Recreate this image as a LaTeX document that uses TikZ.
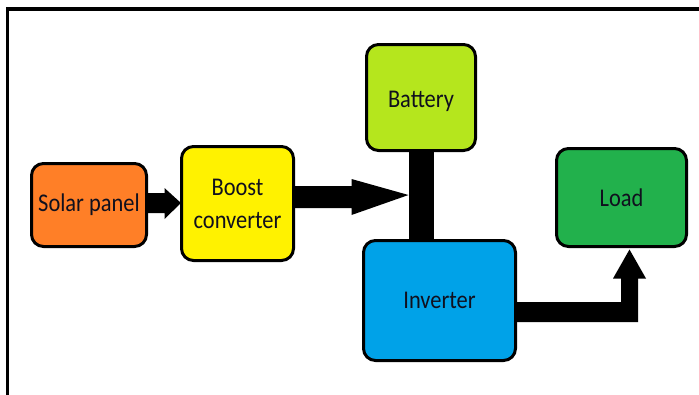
\documentclass[tikz,border=0pt]{standalone}
\usepackage{fontspec}
\setmainfont{Carlito}[FakeStretch=0.88]
\usetikzlibrary{calc,backgrounds}
\definecolor{solarorange}{HTML}{FF7F27}
\definecolor{boostyellow}{HTML}{FFF200}
\definecolor{batterygreen}{HTML}{B5E61D}
\definecolor{inverterblue}{HTML}{00A2E8}
\definecolor{loadgreen}{HTML}{22B14C}
\definecolor{labelink}{HTML}{10101E}
\begin{document}
\begin{tikzpicture}[x=1pt,y=-1pt,
  block/.style={draw=black, line width=3pt, rounded corners=12pt, align=center,
    inner sep=0pt, text=labelink, font=\fontsize{25.5}{33}\selectfont},
  flow/.style={fill=black}]
\useasboundingbox (0,0) rectangle (699,394);
\clip (0,0) rectangle (699,394);

% blocks of the power chain
\node[block, fill=solarorange,  minimum width=115pt, minimum height=83pt]  (solar)    at (89,205)    {Solar panel};
\node[block, fill=boostyellow,  minimum width=112pt, minimum height=114pt] (boost)    at (237.5,203.5) {Boost\\converter};
\node[block, fill=batterygreen, minimum width=109pt, minimum height=106pt] (battery)  at (421,97.5)  {\raisebox{-4pt}[\height][\depth]{Battery}};
\node[block, fill=inverterblue, minimum width=152pt, minimum height=120pt] (inverter) at (439.5,300.5) {Inverter};
\node[block, fill=loadgreen,    minimum width=130pt, minimum height=98pt]  (load)     at (621.5,197.5) {Load};

\begin{scope}[on background layer]
  % outer frame
  \draw[line width=3.5pt] (7.7,420) -- (7.7,9) -- (720,9);

  % solar panel -> boost converter
  \fill[flow] ($(solar.east)+(-3,-12)$) -- ($(solar.east)+(16.5,-12)$)
    -- ($(solar.east)+(16.5,-17)$) -- ($(boost.west |- solar.east)+(1,-2)$)
    -- ($(solar.east)+(16.5,14)$) -- ($(solar.east)+(16.5,8)$)
    -- ($(solar.east)+(-3,8)$) -- cycle;

  % battery <-> inverter bus
  \fill[flow] ($(battery.south)+(-12.5,-3)$) rectangle ($(battery.south |- inverter.north)+(12.5,3)$);

  % boost converter -> bus
  \fill[flow] ($(boost.east)+(-3,-17.5)$) -- ($(boost.east)+(56.5,-17.5)$)
    -- ($(boost.east)+(56.5,-24.5)$) -- ($(battery.south |- boost.east)+(-12.5,-8.5)$)
    -- ($(boost.east)+(56.5,11.5)$) -- ($(boost.east)+(56.5,4.5)$)
    -- ($(boost.east)+(-3,4.5)$) -- cycle;

  % inverter -> load
  \coordinate (bend) at (load.south |- inverter.east);
  \fill[flow] ($(inverter.east)+(-3,1.5)$) -- ($(bend)+(-0.5,1.5)$)
    -- ($(load.south)+(-0.5,30.5)$) -- ($(load.south)+(-8.5,30.5)$)
    -- ($(load.south)+(8,1.5)$) -- ($(load.south)+(24.5,30.5)$)
    -- ($(load.south)+(16.5,30.5)$) -- ($(bend)+(16.5,21.5)$)
    -- ($(inverter.east)+(-3,21.5)$) -- cycle;
\end{scope}
\end{tikzpicture}
\end{document}
